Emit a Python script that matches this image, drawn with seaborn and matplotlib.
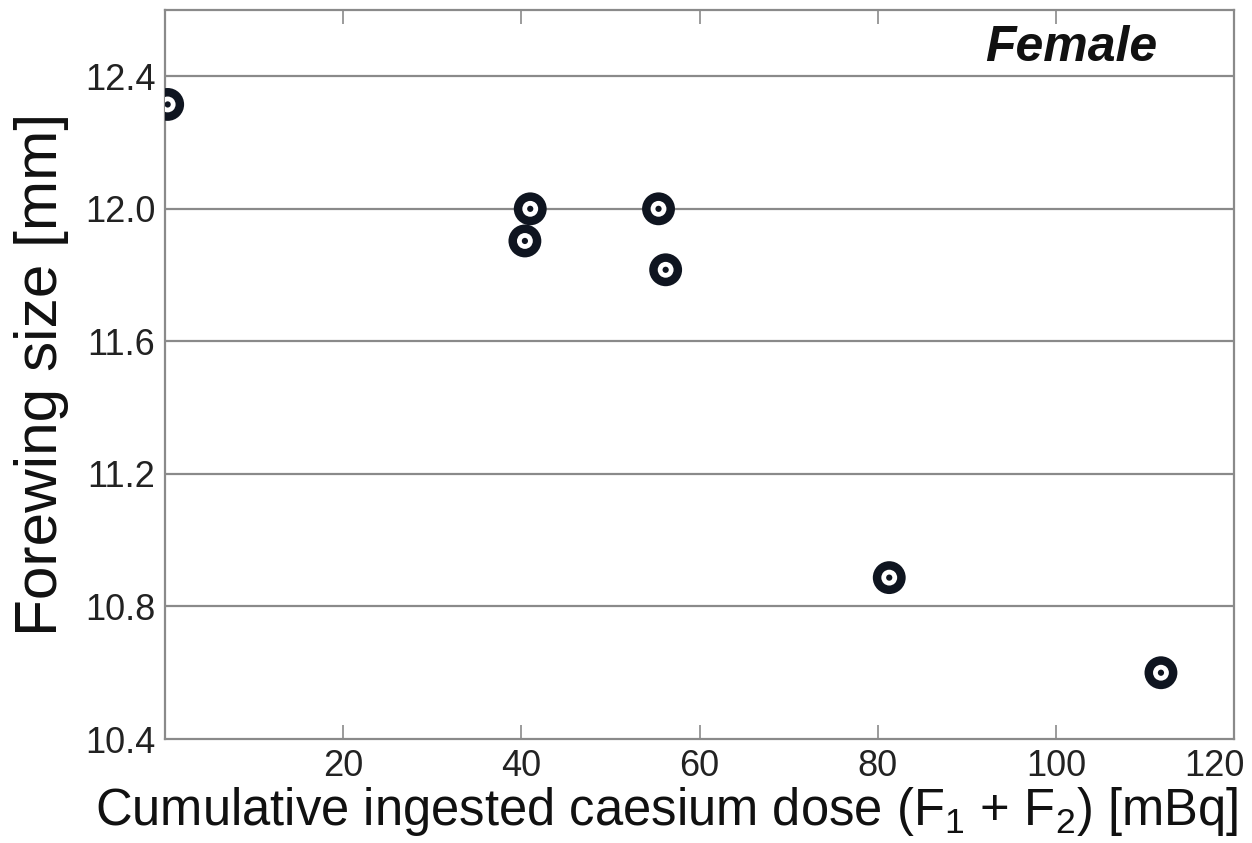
import matplotlib
matplotlib.use("Agg")
import matplotlib.pyplot as plt
import matplotlib.transforms as mtransforms
import seaborn as sns
import pandas as pd

dose = [0.3, 41.0, 40.4, 55.4, 56.2, 81.3, 111.8]
wing = [12.315, 12.0, 11.903, 12.0, 11.816, 10.887, 10.6]
yticks = [10.4, 10.8, 11.2, 11.6, 12.0, 12.4]
xticks = [20, 40, 60, 80, 100, 120]

sns.set_theme(style="white")
plt.rcParams['font.family'] = ['Liberation Sans', 'DejaVu Sans']
plt.rcParams['mathtext.fontset'] = 'custom'
plt.rcParams['mathtext.rm'] = 'Liberation Sans'

df = pd.DataFrame({"dose": dose, "wing": wing})

fig = plt.figure(figsize=(12.52, 8.43), dpi=100)
ax = fig.add_axes([165/1252, 1 - 739/843, (1234-165)/1252, (739-10)/843])

for y in yticks[1:]:
    ax.axhline(y, color="#8a8a8a", lw=1.6, zorder=1)

sns.scatterplot(data=df, x="dose", y="wing", ax=ax, s=560, color="#0f1520",
                edgecolor="none", zorder=3, legend=False)
sns.scatterplot(data=df, x="dose", y="wing", ax=ax, s=130, color="white",
                edgecolor="none", zorder=4, legend=False)
sns.scatterplot(data=df, x="dose", y="wing", ax=ax, s=20, color="#0f1520",
                edgecolor="none", zorder=5, legend=False)

ax.set_xlim(0, 120)
ax.set_ylim(10.4, 12.6)
ax.set_xticks(xticks)
ax.set_yticks(yticks)
ax.set_yticklabels([f"{v:.1f}" for v in yticks])
ax.tick_params(axis="both", direction="in", length=10, width=1.2, color="#8a8a8a",
               labelsize=26, labelcolor="#222222", top=True, right=False, left=False, pad=7)
ax.tick_params(axis="x", bottom=True)
for sp in ax.spines.values():
    sp.set_color("#8a8a8a")
    sp.set_linewidth(1.6)
    sp.set_visible(True)

last = ax.get_xticklabels()[-1]
last.set_transform(last.get_transform() + mtransforms.ScaledTranslation(-20/100, 0, fig.dpi_scale_trans))

ax.set_xlabel(r"Cumulative ingested caesium dose (F$_1$ + F$_2$) [mBq]", fontsize=36.5,
              color="#111111", labelpad=1)
ax.xaxis.label.set_x(0.469)
ax.set_ylabel("Forewing size [mm]", fontsize=43.5, color="#111111", labelpad=11)
ax.text(0.848, 0.948, "Female", transform=ax.transAxes, fontsize=36, fontweight="bold",
        fontstyle="italic", ha="center", va="center", color="#111111")

fig.savefig("out.png", dpi=100, facecolor="white")
